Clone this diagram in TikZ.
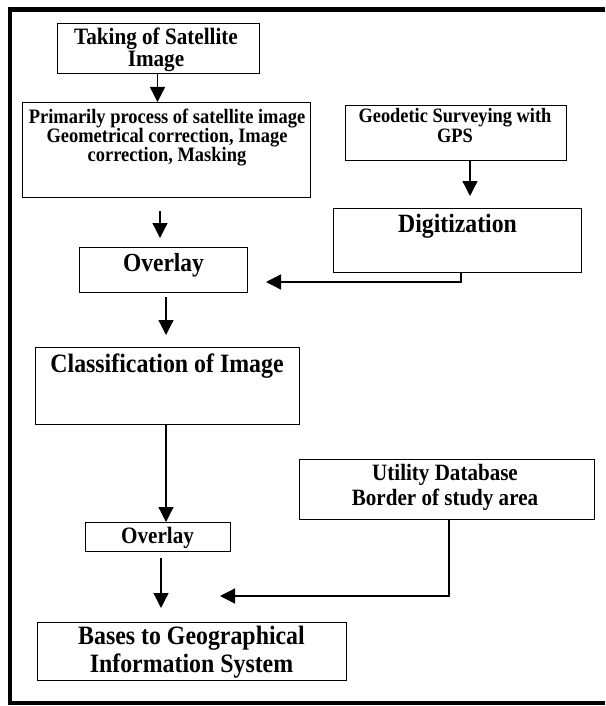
\documentclass[tikz,border=0pt]{standalone}
\usepackage{fontspec}
\setmainfont{Liberation Serif}[FakeStretch=0.9]
\usetikzlibrary{arrows.meta}
\begin{document}
\begin{tikzpicture}[x=1pt,y=-1pt,
  box/.style={draw, line width=1.3pt, inner sep=0pt, anchor=north west},
  lbl/.style={align=center, inner sep=0pt, anchor=north},
  arr/.style={line width=1.3pt, -{Triangle[width=15pt,length=15pt]}},
  conn/.style={line width=1.3pt}
]
\useasboundingbox (0,0) rectangle (605,706);
% outer frame (right side cut off)
\draw[line width=4.5pt] (605,9.5) -- (10,9.5) -- (10,703) -- (605,703);

% boxes
\node[box, minimum width=202pt, minimum height=50pt] (A) at (57,23) {};
\node[box, minimum width=288pt, minimum height=95pt] (B) at (22,102) {};
\node[box, minimum width=221pt, minimum height=55pt] (G) at (345,105) {};
\node[box, minimum width=248pt, minimum height=64pt] (D) at (333,208) {};
\node[box, minimum width=168pt, minimum height=45pt] (O1) at (79,247) {};
\node[box, minimum width=264pt, minimum height=77pt] (C) at (35,347) {};
\node[box, minimum width=295pt, minimum height=60pt] (U) at (299,459) {};
\node[box, minimum width=145pt, minimum height=29pt] (O2) at (85,522) {};
\node[box, minimum width=309pt, minimum height=58pt] (S) at (37,622) {};

% texts
\node[lbl, font={\fontsize{23.5}{22}\selectfont\bfseries\lineskiplimit=-30pt}] (tA) at (156,27.5) {Taking of Satellite\\Image};
\node[lbl, font={\fontsize{20.5}{19}\selectfont\bfseries\lineskiplimit=-30pt}] (tB) at (167,108.5) {Primarily process of satellite image\\Geometrical correction, Image\\correction, Masking};
\node[lbl, font={\fontsize{20.4}{19.5}\selectfont\bfseries\lineskiplimit=-30pt}] (tG) at (455,108.5) {Geodetic Surveying with\\GPS};
\node[lbl, font={\fontsize{26.4}{30}\selectfont\bfseries}] (tD) at (457.5,214) {Digitization};
\node[lbl, font={\fontsize{26.1}{30}\selectfont\bfseries}] (tO1) at (163.5,253) {Overlay};
\node[lbl, font={\fontsize{26.5}{30}\selectfont\bfseries}] (tC) at (167,354) {Classification of Image};
\node[lbl, font={\fontsize{23.4}{25}\selectfont\bfseries\lineskiplimit=-30pt}] (tU) at (445,464) {Utility Database\\Border of study area};
\node[lbl, font={\fontsize{23.5}{26}\selectfont\bfseries}] (tO2) at (157.5,527) {Overlay};
\node[lbl, font={\fontsize{26.5}{28}\selectfont\bfseries\lineskiplimit=-30pt}] (tS) at (191.5,626) {Bases to Geographical\\Information System};

% free connector ends
\coordinate (b1) at (160,211);
\coordinate (b2) at (160,238);
\coordinate (g1) at (470,160);
\coordinate (g2) at (470,196);
\coordinate (d1) at (461,272);
\coordinate (d2) at (461,282);
\coordinate (d3) at (266,282);
\coordinate (o1) at (166,297);
\coordinate (o2) at (166,335);
\coordinate (c1) at (166,424);
\coordinate (c2) at (166,522);
\coordinate (u1) at (449,519);
\coordinate (u2) at (449,596);
\coordinate (u3) at (220,596);
\coordinate (s1) at (161,558);
\coordinate (s2) at (161,608);

% connectors
\draw[arr] (A.south -| 157.5,0) -- (B.north -| 157.5,0);
\draw[arr] (b1) -- (b2);
\draw[arr] (G.south -| g1) -- (g2);
\draw[arr] (D.south -| d1) -- (d2) -- (d3);
\draw[arr] (o1) -- (o2);
\draw[arr] (C.south -| c1) -- (O2.north -| c2);
\draw[arr] (U.south -| u1) -- (u2) -- (u3);
\draw[arr] (s1) -- (s2);
\end{tikzpicture}
\end{document}
